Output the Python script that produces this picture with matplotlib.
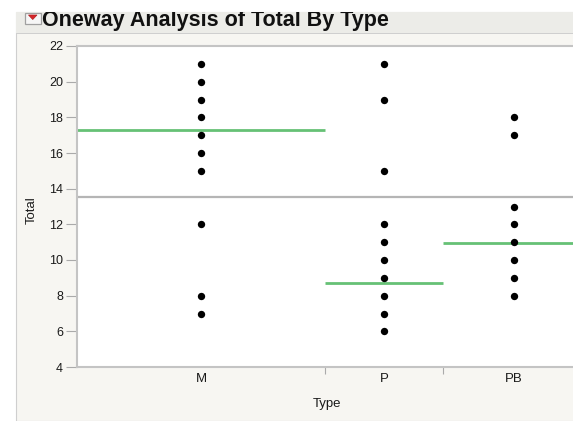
import matplotlib.pyplot as plt
from matplotlib.patches import Rectangle, Polygon

# Valeurs par type
types = ['M', 'P', 'PB']
effectifs = [21, 10, 12]
points_m = [21, 20, 19, 18, 17, 16, 15, 12, 8, 7]
points_p = [21, 19, 15, 12, 11, 10, 9, 8, 7, 6]
points_pb = [18, 17, 13, 12, 11, 10, 9, 8]
moyennes = [17.3, 8.69, 10.93]
moyenne_globale = 13.51
yticks = [4, 6, 8, 10, 12, 14, 16, 18, 20, 22]

W, H = 573, 421
fig = plt.figure(figsize=(W / 100, H / 100), dpi=100)
fig.patch.set_facecolor('white')
plt.rcParams['font.family'] = ['Liberation Sans', 'DejaVu Sans']

def px(x0, y0, x1, y1):
    # rectangle en pixels (origine en haut à gauche) -> coordonnées figure
    return [x0 / W, 1 - y1 / H, (x1 - x0) / W, (y1 - y0) / H]

# fond gris clair du rapport
fig.patches.append(Rectangle((16 / W, 0), 1, 1 - 12 / H, transform=fig.transFigure,
                             facecolor='#f7f6f2', edgecolor='#cfcfcf', lw=0.8, zorder=-10))

# bandeau de titre (texte rogné en haut)
hdr = fig.add_axes(px(16, 12, 573, 34))
hdr.set_facecolor('#ecece8')
hdr.set_xlim(0, 557)
hdr.set_ylim(22, 0)
for s in hdr.spines.values():
    s.set_visible(False)
hdr.axhline(21.5, color='#cccccc', lw=2)
hdr.set_xticks([])
hdr.set_yticks([])
hdr.text(26, 14, 'Oneway Analysis of Total By Type', fontsize=15.5, fontweight='bold',
         color='#111111', va='baseline', ha='left', clip_on=True)
hdr.add_patch(Rectangle((9, 0.6), 16, 11.5, facecolor='#f6f6f6', edgecolor='#a0a0a0', lw=0.9))
hdr.add_patch(Polygon([(12.5, 3), (21, 3), (16.75, 7.5)], closed=True, facecolor='#d8262a',
                      edgecolor='#b01e22', lw=0.5))

# graphique principal : largeur de chaque groupe proportionnelle à l'effectif
ax = fig.add_axes(px(77, 46, 585, 367))
ax.set_facecolor('white')
bornes = [0]
for n in effectifs:
    bornes.append(bornes[-1] + n)
centres = [(bornes[i] + bornes[i + 1]) / 2 for i in range(len(types))]

ax.axhline(moyenne_globale, color='#b5b5b5', lw=1.6, zorder=1)
for i, m in enumerate(moyennes):
    ax.hlines(m, bornes[i], bornes[i + 1], color='#66c175', lw=2, zorder=2)

for c, pts in zip(centres, [points_m, points_p, points_pb]):
    ax.scatter([c] * len(pts), pts, s=28, color='black', zorder=3, linewidths=0)

ax.set_xlim(bornes[0], bornes[-1])
ax.set_ylim(4, 22)
ax.set_yticks(yticks)
ax.set_yticklabels([str(v) for v in yticks], fontsize=9, color='#1a1a1a')
ax.set_xticks(bornes[1:-1])
ax.set_xticklabels([])
ax.set_xticks(centres, minor=True)
ax.set_xticklabels(types, minor=True, fontsize=9.5, color='#1a1a1a')
ax.tick_params(axis='x', which='minor', length=0, pad=4.5)
ax.tick_params(axis='x', which='major', length=5, color='#aaaaaa', width=0.8)
ax.tick_params(axis='y', length=8, color='#aaaaaa', width=0.8, pad=2)

for nom in ['left', 'bottom', 'top']:
    ax.spines[nom].set_color('#c4c4c4')
    ax.spines[nom].set_linewidth(1.5)
ax.spines['right'].set_visible(False)

ax.set_xlabel('Type', fontsize=9.5, color='#1a1a1a')
ax.set_ylabel('Total', fontsize=9.5, color='#1a1a1a')
ax.xaxis.set_label_coords((327 - 77) / 508, -(398 - 367) / 321)
ax.yaxis.set_label_coords(-(77 - 38) / 508, (367 - 210) / 321)

fig.savefig('out.png', dpi=100)
